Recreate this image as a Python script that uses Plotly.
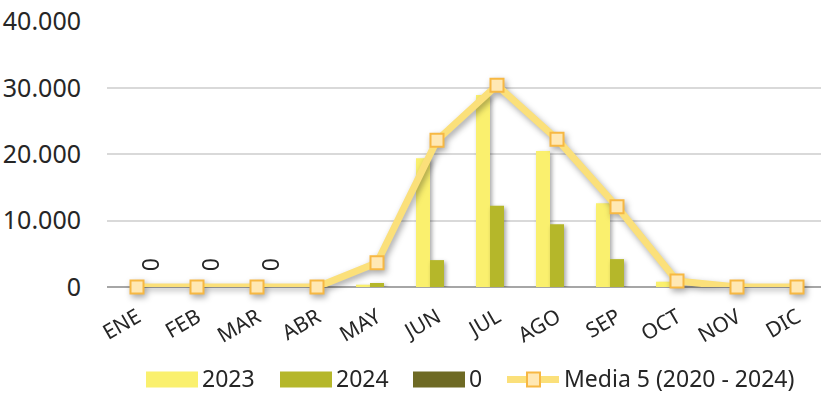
import plotly.graph_objects as go

# Monthly values
months = ["ENE", "FEB", "MAR", "ABR", "MAY", "JUN", "JUL", "AGO", "SEP", "OCT", "NOV", "DIC"]
serie_2023 = [0, 0, 0, 0, 350, 19400, 28900, 20500, 12600, 800, 0, 0]
serie_2024 = [0, 0, 0, 0, 600, 4050, 12250, 9450, 4200, 0, 0, 0]
serie_0 = [0, 0, 0, None, None, None, None, None, None, None, None, None]
media_5 = [0, 0, 0, 0, 3650, 22100, 30400, 22250, 12100, 900, 0, 0]
y_ticks = [0, 10000, 20000, 30000, 40000]

FONT = "Noto Sans"
TXT = "#262626"
C2023 = "#FAF06E"
C2024 = "#B5B72A"
C0 = "#6E6A24"
LINE = "#FBE07A"
MK_FILL = "#FFE8B4"
MK_EDGE = "#F7B843"
MEDIA_NAME = "Media 5 (2020 - 2024)"

W, H = 821, 393
M_L, M_T, M_B = 107, 21, 106
PLOT_W = W - M_L
PLOT_H = H - M_T - M_B


def px_x(px):
    """Pixel column -> paper x."""
    return (px - M_L) / PLOT_W


def px_y(py):
    """Pixel row -> paper y."""
    return (H - M_B - py) / PLOT_H


fig = go.Figure()

bar_series = [("2023", serie_2023, C2023), ("2024", serie_2024, C2024), ("0", serie_0, C0)]
for name, vals, col in bar_series:
    fig.add_trace(go.Bar(
        x=months, y=vals, name=name, marker=dict(color=col, line=dict(width=0)),
        showlegend=False,
    ))

fig.add_trace(go.Scatter(
    x=months, y=media_5, name=MEDIA_NAME, mode="lines+markers",
    line=dict(color=LINE, width=7),
    marker=dict(symbol="square", size=13, color=MK_FILL, line=dict(color=MK_EDGE, width=2)),
    showlegend=False, cliponaxis=False,
))

# value labels for the "0" series
for m, v in zip(months, serie_0):
    if v is not None:
        fig.add_annotation(
            x=m, y=v, text=f"{v}", showarrow=False, textangle=90,
            xshift=14, yshift=23, font=dict(family=FONT, size=23, color=TXT),
        )

# legend row below the chart
SW_Y = 379.5
TX_Y = 377.5
swatch_left = [146, 280, 413]
for (name, _, col), left in zip(bar_series, swatch_left):
    fig.add_shape(
        type="rect", xref="paper", yref="paper",
        x0=px_x(left), x1=px_x(left + 52), y0=px_y(SW_Y + 8), y1=px_y(SW_Y - 8),
        fillcolor=col, line=dict(width=0),
    )
    fig.add_annotation(
        xref="paper", yref="paper", x=px_x(left + 55), y=px_y(TX_Y),
        xanchor="left", yanchor="middle", text=name, showarrow=False, borderpad=0,
        font=dict(family=FONT, size=23, color=TXT),
    )

fig.add_shape(
    type="line", xref="paper", yref="paper",
    x0=px_x(507), x1=px_x(559), y0=px_y(SW_Y), y1=px_y(SW_Y),
    line=dict(color=LINE, width=7),
)
fig.add_shape(
    type="rect", xref="paper", yref="paper",
    x0=px_x(527), x1=px_x(540), y0=px_y(SW_Y + 7), y1=px_y(SW_Y - 7),
    fillcolor=MK_FILL, line=dict(color=MK_EDGE, width=2),
)
fig.add_annotation(
    xref="paper", yref="paper", x=px_x(563), y=px_y(TX_Y),
    xanchor="left", yanchor="middle", text=MEDIA_NAME, showarrow=False, borderpad=0,
    font=dict(family=FONT, size=23, color=TXT),
)

fig.update_layout(
    width=W, height=H,
    margin=dict(l=M_L, r=0, t=M_T, b=M_B, autoexpand=False),
    paper_bgcolor="white", plot_bgcolor="white",
    barmode="group", bargap=0.3, bargroupgap=0,
    separators=",.",
    font=dict(family=FONT, size=23, color=TXT),
    showlegend=False,
)

fig.update_xaxes(
    type="category", range=[-0.5, 11.4], tickangle=-30,
    showgrid=False, showline=False, zeroline=False, ticks="",
    ticklabelstandoff=13,
    tickfont=dict(family=FONT, size=21, color=TXT),
)
fig.update_yaxes(
    range=[0, 40060], tickvals=y_ticks, tickformat=",.0f",
    showgrid=True, gridcolor="#D9D9D9", gridwidth=1.5,
    zeroline=True, zerolinecolor="#A6A6A6", zerolinewidth=1.5,
    showline=False, ticks="", ticklabelstandoff=25,
    tickfont=dict(family=FONT, size=25, color=TXT),
)

shadow_js = """
var s = document.createElement('style');
s.textContent = '.barlayer .trace{filter:drop-shadow(2px 2px 2px rgba(0,0,0,0.35));}'
 + '.scatterlayer .trace{filter:drop-shadow(2px 3px 3px rgba(0,0,0,0.35));}';
document.head.appendChild(s);
"""

fig.write_html("out.html", post_script=shadow_js)
